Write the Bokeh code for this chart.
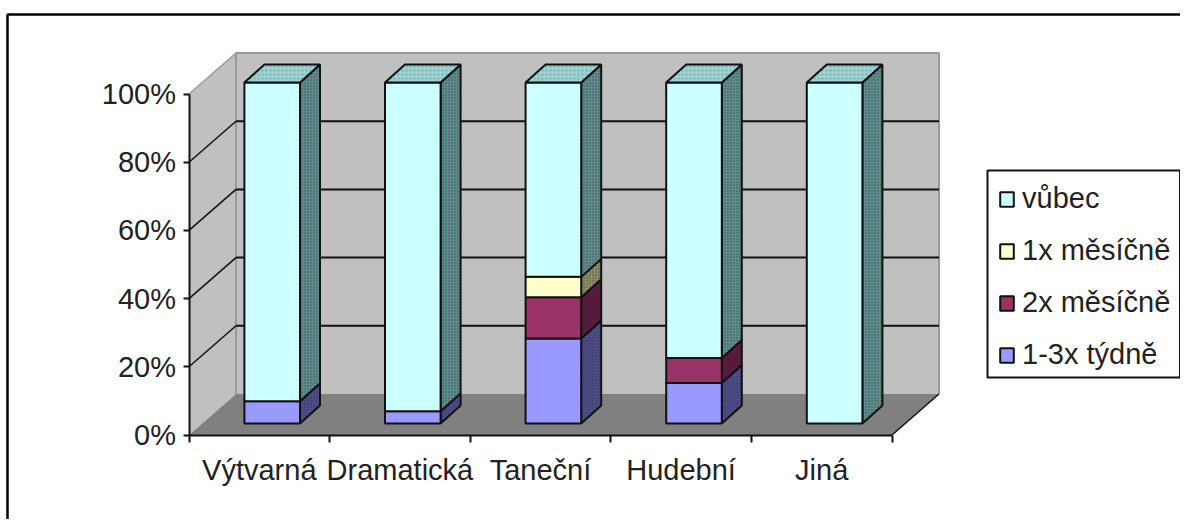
from bokeh.plotting import figure
from bokeh.models import FixedTicker, Legend, LegendItem
from bokeh.embed import file_html
from bokeh.resources import INLINE

categories = ["Výtvarná", "Dramatická", "Taneční", "Hudební", "Jiná"]
series_names = ["1-3x týdně", "2x měsíčně", "1x měsíčně", "vůbec"]
tydne = [6.5, 3.6, 24.9, 11.9, 0]
mesicne2 = [0, 0, 12.1, 7.3, 0]
mesicne1 = [0, 0, 6.0, 0, 0]
vubec = [93.5, 96.4, 57.0, 80.8, 100]
series = [tydne, mesicne2, mesicne1, vubec]
front = ["#9999ff", "#993366", "#ffffcc", "#ccffff"]
side = ["#4d4d8c", "#5c1a40", "#8c8c66", "#5f8c8c"]
top_col = "#99d3d3"
y_ticks = [0, 20, 40, 60, 80, 100]
y_labels = {t: f"{t}%" for t in y_ticks}

PW, PH = 1180, 519
X0, Y0 = 188.5, 434.5      # origin of the axes inside the figure
SX, SY = 140.6, 3.41       # px per category, px per percent
DX, DY = 47 / SX, 41 / SY  # wall depth in data units
BX, BY = 20 / SX, 18 / SY  # depth of bar
BAR_W = 55.6 / SX
BAR_L = (243.9 - X0) / SX
FONT = "Liberation Sans"
FS = "29px"

def px(x):
    return (x - X0) / SX

def py(y):
    return (Y0 - y) / SY

p = figure(width=PW, height=PH, output_backend="svg", toolbar_location=None,
           x_range=(px(0), px(PW)), y_range=(py(PH), py(0)),
           min_border=0, outline_line_color=None, background_fill_color="white",
           border_fill_color="white")
p.grid.visible = False

# walls
n = len(categories)
p.patch([0, DX, DX, 0], [0, DY, 100 + DY, 100], fill_color="#c0c0c0", line_color=None)
p.patch([DX, n + DX, n + DX, DX], [DY, DY, 100 + DY, 100 + DY], fill_color="#c0c0c0", line_color=None)
p.patch([0, n, n + DX, DX], [0, 0, DY, DY], fill_color="#808080", line_color=None)
# wall edges
p.line([DX, DX, n + DX, n + DX], [DY, 100 + DY, 100 + DY, DY], line_color="#9a9a9a", line_width=2)
p.line([0, DX], [100, 100 + DY], line_color="#9a9a9a", line_width=1.5)
# gridlines
g = y_ticks[1:-1]
p.segment([DX] * 4, [t + DY for t in g], [n + DX] * 4, [t + DY for t in g], line_color="#111111", line_width=2)
p.segment([0] * 4, g, [DX] * 4, [t + DY for t in g], line_color="#111111", line_width=1.5)
p.line([n, n + DX], [0, DY], line_color="#111111", line_width=1.5)

# bars
ox = BAR_L
oy = (Y0 - 423) / SY
renderers = []
for s in range(4):
    fl, fr, fb, ft = [], [], [], []
    sx, sy, = [], []
    bottoms = [sum(series[k][i] for k in range(s)) for i in range(n)]
    for i in range(n):
        v = series[s][i]
        if v <= 0:
            continue
        l = i + ox
        r = l + BAR_W
        b = bottoms[i] + oy
        t = b + v
        fl.append(l); fr.append(r); fb.append(b); ft.append(t)
        sx.append([r, r + BX, r + BX, r])
        sy.append([b, b + BY, t + BY, t])
    p.patches(sx, sy, fill_color=side[s], line_color="#111111", line_width=2,
              hatch_pattern="dot", hatch_color="#222222", hatch_scale=3, hatch_alpha=0.55)
    r_front = p.quad(left=fl, right=fr, bottom=fb, top=ft, fill_color=front[s],
                     line_color="#111111", line_width=2)
    renderers.append(r_front)
    if s == 3:
        tx = [[l, r, r + BX, l + BX] for l, r in zip(fl, fr)]
        ty = [[t, t, t + BY, t + BY] for t in ft]
        p.patches(tx, ty, fill_color=top_col, line_color="#111111", line_width=2,
                  hatch_pattern="dot", hatch_color="#667777", hatch_scale=4, hatch_alpha=0.5)

# axes
ya = p.yaxis[0]
ya.fixed_location = 0
ya.bounds = (0, 100)
ya.ticker = FixedTicker(ticks=y_ticks)
ya.major_label_overrides = y_labels
ya.major_tick_out = 6
ya.major_tick_in = 0
ya.minor_tick_line_color = None
ya.major_label_standoff = 7
ya.axis_line_width = 2
ya.major_tick_line_width = 2
ya.axis_line_color = ya.major_tick_line_color = "#111111"
ya.major_label_text_font = FONT
ya.major_label_text_font_size = FS
ya.major_label_text_color = "#222222"

xa = p.xaxis[0]
xa.fixed_location = 0
xa.bounds = (0, n)
centers = [i + 0.5 for i in range(n)]
xa.ticker = FixedTicker(ticks=centers, minor_ticks=list(range(n + 1)))
xa.major_label_overrides = {c: name for c, name in zip(centers, categories)}
xa.major_tick_out = 0
xa.major_tick_in = 0
xa.minor_tick_out = 7
xa.minor_tick_in = 0
xa.minor_tick_line_width = 2
xa.minor_tick_line_color = "#111111"
xa.axis_line_width = 2
xa.axis_line_color = "#111111"
xa.major_label_standoff = 12
xa.major_label_orientation = "horizontal"
xa.major_label_text_font = FONT
xa.major_label_text_font_size = FS
xa.major_label_text_color = "#222222"

# chart area border (left and top only)
p.line([px(7), px(7), px(PW)], [py(PH), py(14), py(14)], line_color="black", line_width=2.5)

# legend frame and entries
p.quad(left=[px(987)], right=[px(1179.5)], top=[py(170)], bottom=[py(377)],
       fill_color="white", line_color="#111111", line_width=2)
items = [LegendItem(label=series_names[s], renderers=[renderers[s]]) for s in (3, 2, 1, 0)]
leg = Legend(items=items, location=(986, PH - 383), orientation="vertical",
             glyph_width=17, glyph_height=18, label_width=148, label_height=30,
             spacing=19, padding=12, margin=0,
             label_standoff=7, label_text_font=FONT, label_text_font_size=FS,
             label_text_color="#222222", border_line_color="white", border_line_alpha=0,
             background_fill_alpha=0)
p.add_layout(leg)

open("out.html", "w").write(file_html(p, INLINE))
